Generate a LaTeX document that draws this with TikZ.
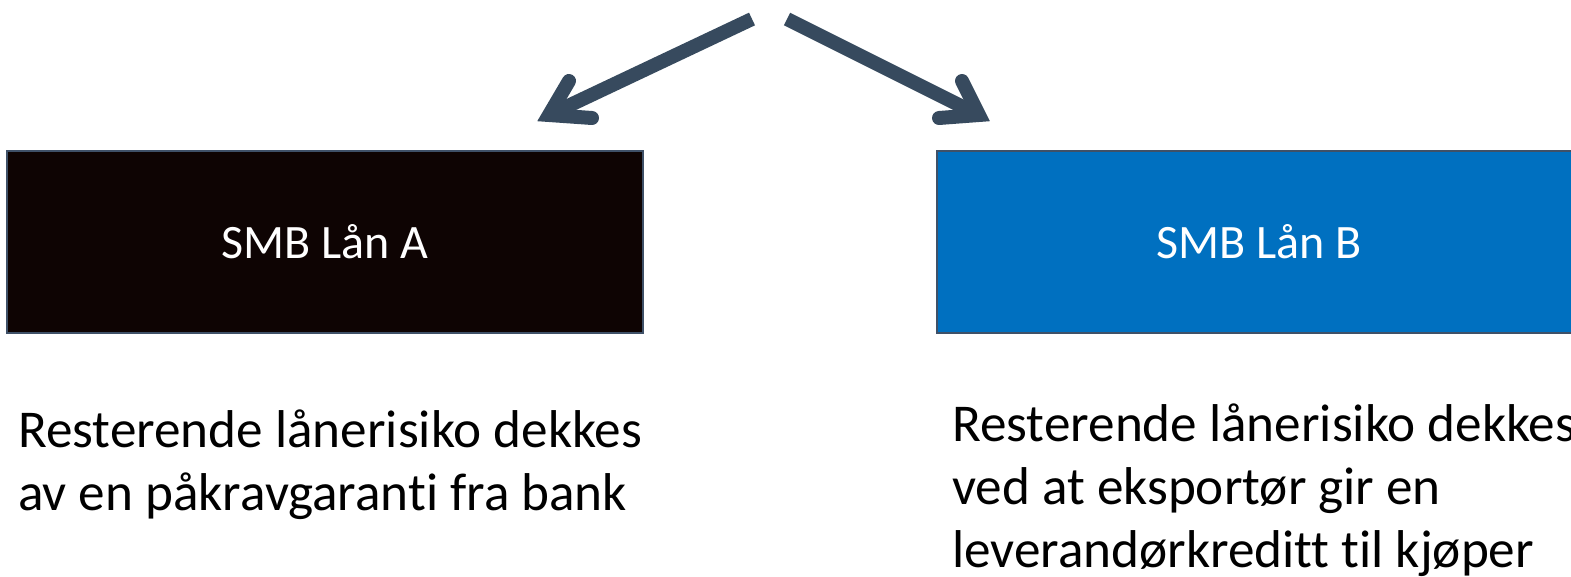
\documentclass[tikz,border=0pt]{standalone}
\usepackage{fontspec}
\setmainfont{Carlito}[RawFeature={-liga;-clig;-dlig}]
\definecolor{arrowc}{HTML}{374A5E}
\definecolor{boxa}{HTML}{0E0403}
\definecolor{boxb}{HTML}{0070C0}
\definecolor{edgec}{HTML}{3F5168}
\begin{document}
\begin{tikzpicture}[x=1pt,y=-1pt,
  loanbox/.style={draw=edgec, line width=1.5pt, minimum width=#1, minimum height=182pt, inner sep=0pt, text=white, font=\fontsize{48}{58}\selectfont},
  desc/.style={anchor=base west, align=left, inner sep=0pt, font=\fontsize{53.2}{63}\selectfont},
  shaft/.style={draw=arrowc, line width=14pt},
  barb/.style={draw=arrowc, line width=14pt, line cap=round, line join=miter}]
\useasboundingbox (0,0) rectangle (1571,577);
\fill[white] (0,0) rectangle (1571,577);
% boxes
\node[loanbox=636pt, fill=boxa] (A) at (325,242) {SMB Lån A};
\node[loanbox=644pt, fill=boxb] (B) at (1259,242) {SMB Lån B};
% descriptions (anchor = baseline of last line)
\node[desc] (dA) at (18,510) {Resterende lånerisiko dekkes\\av en påkravgaranti fra bank};
\node[desc] (dB) at (952,567) {Resterende lånerisiko dekkes\\ved at eksportør gir en\\leverandørkreditt til kjøper};
% arrows
\coordinate (sL) at (752,19);
\coordinate (tL) at (549,115);
\coordinate (bL1) at (569,81);
\coordinate (bL2) at (592,118);
\coordinate (sR) at (787,19);
\coordinate (tR) at (979,115);
\coordinate (bR1) at (962,81);
\coordinate (bR2) at (939,118);
\draw[shaft] (sL) -- (tL);
\draw[barb] (bL1) -- (tL) -- (bL2);
\draw[shaft] (sR) -- (tR);
\draw[barb] (bR1) -- (tR) -- (bR2);
\end{tikzpicture}
\end{document}
